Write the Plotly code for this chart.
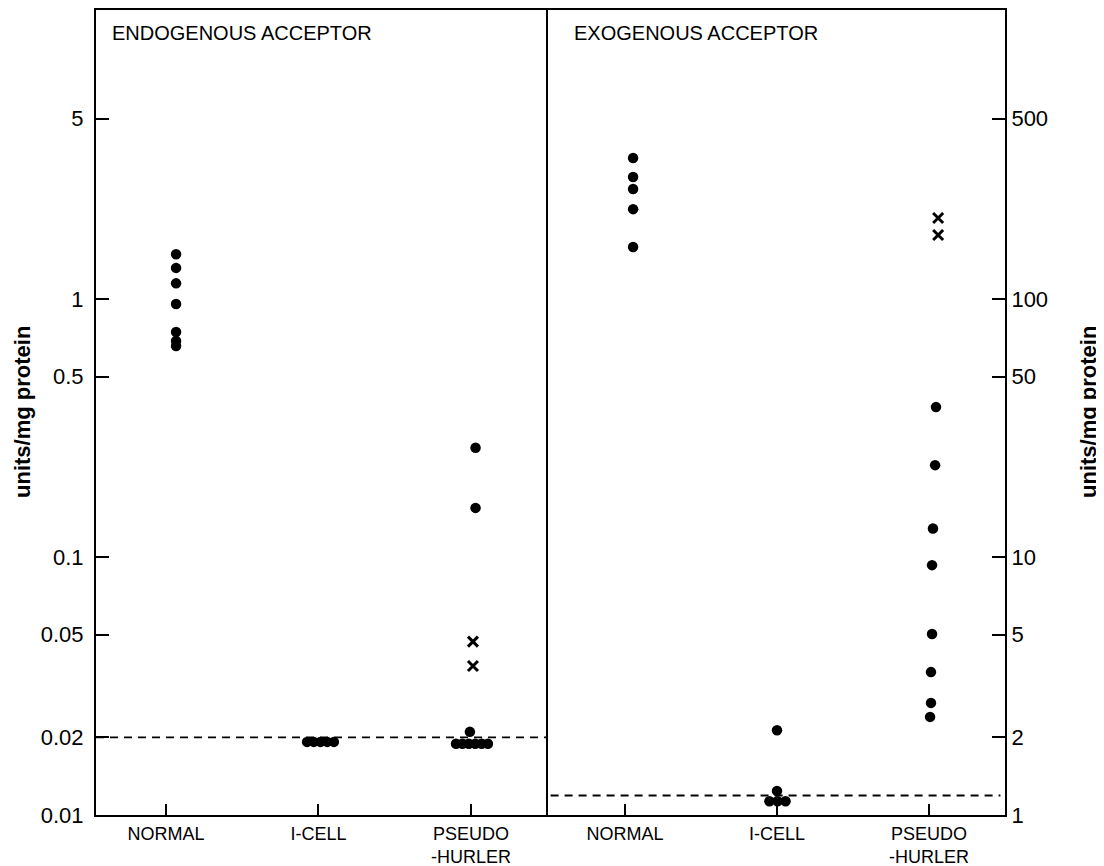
import plotly.graph_objects as go

# ---------------- data ----------------
categories = ["NORMAL", "I-CELL", "PSEUDO<br>-HURLER"]

# Endogenous acceptor (units/mg protein), left panel
endo_normal = [1.49, 1.32, 1.15, 0.956, 0.745, 0.688, 0.657]
endo_icell = [0.0192, 0.0192, 0.0192, 0.0192, 0.0192]
endo_pseudo_dots = [0.265, 0.155, 0.021, 0.0189, 0.0189, 0.0189, 0.0189, 0.0189, 0.0189]
endo_pseudo_x = [0.047, 0.0378]
endo_threshold = 0.02

# Exogenous acceptor (units/mg protein), right panel
exo_normal = [352, 297, 267, 223, 159]
exo_icell = [2.13, 1.24, 1.13, 1.13, 1.13]
exo_pseudo_dots = [38.1, 22.7, 12.9, 9.3, 5.03, 3.58, 2.72, 2.40]
exo_pseudo_x = [206, 177]
exo_threshold = 1.19

left_ticks = [0.01, 0.02, 0.05, 0.1, 0.5, 1, 5]
left_ticktext = ["0.01", "0.02", "0.05", "0.1", "0.5", "1", "5"]
right_ticks = [1, 2, 5, 10, 50, 100, 500]
right_ticktext = ["1", "2", "5", "10", "50", "100", "500"]

# horizontal spread of overlapping points (position offsets from category centre)
off_endo_normal = [0.066] * 7
off_endo_icell = [-0.075, -0.031, 0.013, 0.057, 0.101]
off_endo_pseudo_dots = [0.03, 0.03, -0.007, -0.098, -0.056, -0.014, 0.028, 0.07, 0.111]
off_endo_pseudo_x = [0.013, 0.013]
off_exo_normal = [0.053] * 5
off_exo_icell = [0.0, 0.0, -0.05, 0.003, 0.056]
off_exo_pseudo_dots = [0.046, 0.04, 0.026, 0.02, 0.02, 0.013, 0.013, 0.007]
off_exo_pseudo_x = [0.06, 0.06]

# ---------------- figure ----------------
# page body has an 8px margin: work in page pixels and subtract it
OFF = 8
W, H = 1104 - OFF, 866 - OFF
L, R, T, B = 96 - OFF, 1005 - OFF, 10 - OFF, 815 - OFF
pw, ph = R - L, B - T
split = 546 - OFF
dsplit = (split - L) / pw
FONT = "Liberation Sans"

fig = go.Figure()

dot = dict(symbol="circle", size=10.5, color="black")
cross = dict(symbol="x-thin", size=10, color="black", line=dict(width=3, color="black"))


def add(xc, offs, vals, marker, xa, ya):
    fig.add_trace(go.Scatter(
        x=[xc + o for o in offs], y=vals, mode="markers", marker=marker,
        xaxis=xa, yaxis=ya, showlegend=False, hoverinfo="y"))


add(0, off_endo_normal, endo_normal, dot, "x", "y")
add(1, off_endo_icell, endo_icell, dot, "x", "y")
add(2, off_endo_pseudo_dots, endo_pseudo_dots, dot, "x", "y")
add(2, off_endo_pseudo_x, endo_pseudo_x, cross, "x", "y")
add(0, off_exo_normal, exo_normal, dot, "x2", "y2")
add(1, off_exo_icell, exo_icell, dot, "x2", "y2")
add(2, off_exo_pseudo_dots, exo_pseudo_dots, dot, "x2", "y2")
add(2, off_exo_pseudo_x, exo_pseudo_x, cross, "x2", "y2")

# threshold dashed lines
fig.add_shape(type="line", xref="x domain", yref="y", x0=0, x1=1,
              y0=endo_threshold, y1=endo_threshold,
              line=dict(color="black", width=1.8, dash="8px,6px"))
fig.add_shape(type="line", xref="x2 domain", yref="y2", x0=0.01, x1=0.99,
              y0=exo_threshold, y1=exo_threshold,
              line=dict(color="black", width=1.8, dash="8px,6px"))

decades = ph / 258.0
axis_common = dict(showgrid=False, zeroline=False, showline=True, linecolor="black",
                   linewidth=2, ticks="inside", tickcolor="black", tickwidth=2,
                   automargin=False)

fig.update_layout(
    width=W, height=H,
    margin=dict(l=L, r=W - R, t=T, b=H - B, autoexpand=False),
    paper_bgcolor="white", plot_bgcolor="white",
    font=dict(family=FONT, color="black"),
    xaxis=dict(domain=[0, dsplit], range=[-0.459, 2.492], tickvals=[0, 1, 2],
               ticktext=categories, ticklen=11, mirror=True,
               tickfont=dict(size=18), ticklabelstandoff=1, **axis_common),
    xaxis2=dict(domain=[dsplit, 1], range=[-0.52, 2.50], tickvals=[0, 1, 2],
                ticktext=categories, ticklen=11, mirror=True, anchor="y2",
                tickfont=dict(size=18), ticklabelstandoff=1, **axis_common),
    yaxis=dict(type="log", range=[-2, -2 + decades], tickvals=left_ticks,
               ticktext=left_ticktext, ticklen=13, mirror=True, anchor="x",
               tickfont=dict(size=22), ticklabelstandoff=6, **axis_common),
    yaxis2=dict(type="log", range=[0, decades], tickvals=right_ticks,
                ticktext=right_ticktext, ticklen=13, side="right", anchor="x2",
                tickfont=dict(size=22), ticklabelstandoff=0, **axis_common),
)


def px(xp):
    return (xp - OFF - L) / pw


def py(yp):
    return (B - (yp - OFF)) / ph


fig.add_annotation(text="ENDOGENOUS ACCEPTOR", xref="paper", yref="paper",
                   x=px(110), y=py(33), xanchor="left", yanchor="middle",
                   showarrow=False, font=dict(size=20))
fig.add_annotation(text="EXOGENOUS ACCEPTOR", xref="paper", yref="paper",
                   x=px(572), y=py(33), xanchor="left", yanchor="middle",
                   showarrow=False, font=dict(size=20))
fig.add_annotation(text="<b>units/mg protein</b>", xref="paper", yref="paper",
                   x=px(22), y=py(412), textangle=-90, xanchor="center", yanchor="middle",
                   showarrow=False, font=dict(size=22))
fig.add_annotation(text="<b>units/mg protein</b>", xref="paper", yref="paper",
                   x=px(1088), y=py(412), textangle=-90, xanchor="center", yanchor="middle",
                   showarrow=False, font=dict(size=22))

fig.write_html("out.html")
